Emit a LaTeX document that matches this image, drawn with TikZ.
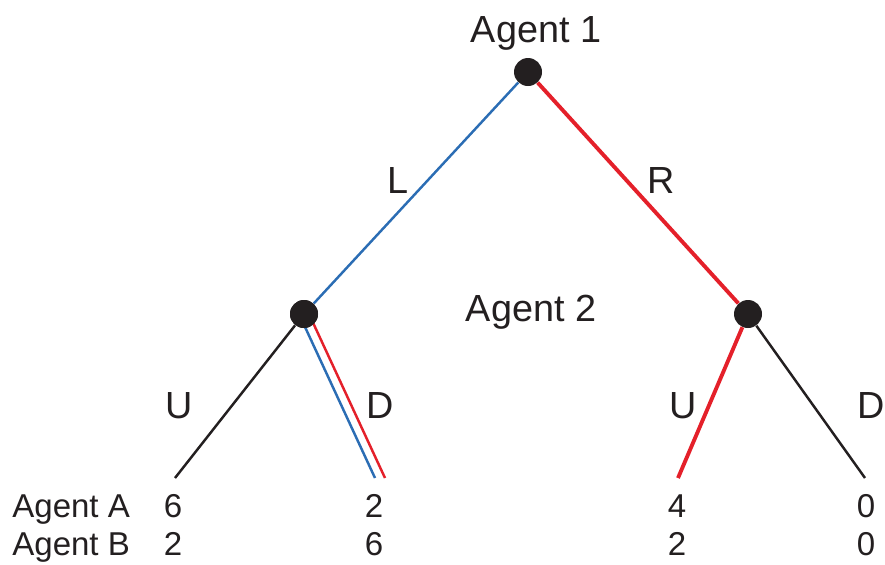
\documentclass[tikz,border=0pt]{standalone}
\usepackage{fontspec}
\setmainfont{Liberation Sans}
\usepackage{xcolor}
\usetikzlibrary{positioning,calc}

\definecolor{nodeblack}{HTML}{231F20}
\definecolor{moveblue}{HTML}{2B6DB4}
\definecolor{movered}{HTML}{E4202A}

\begin{document}
\begin{tikzpicture}[
  decision/.style={circle,fill=nodeblack,minimum size=5.6mm,inner sep=0pt},
  edge/.style={line width=1.4pt,draw=nodeblack},
  blueedge/.style={line width=1.4pt,draw=moveblue},
  rededge/.style={line width=2.2pt,draw=movered},
  treelabel/.style={anchor=base,font=\fontsize{21.5}{24}\selectfont},
  payoff/.style={anchor=base,inner sep=0pt},
  every node/.style={font=\fontsize{18.8}{21}\selectfont,text=nodeblack}
]
  \useasboundingbox (0,0) rectangle (17.7,-11.28);

  % decision nodes and leaves
  \node[decision] (top) at (10.56,-1.44) {};
  \node[decision] (left) at (6.08,-6.28) {};
  \node[decision] (right) at (14.96,-6.28) {};
  \coordinate (leafLU) at (3.5,-9.56);
  \coordinate (leafLD) at (7.6,-9.56);
  \coordinate (leafRU) at (13.56,-9.56);
  \coordinate (leafRD) at (17.3,-9.56);

  % moves
  \draw[blueedge] (top) -- (left);
  \draw[rededge] (top) -- (right);
  \draw[edge] (left) -- (leafLU);
  \draw[blueedge,transform canvas={xshift=-1mm}] (left.center) -- (leafLD);
  \draw[rededge,line width=1.4pt,transform canvas={xshift=1mm}] (left.center) -- (leafLD);
  \draw[rededge] (right) -- (leafRU);
  \draw[edge] (right) -- (leafRD);
  \node[decision] at (left) {};

  % labels
  \node[treelabel] (ag1) at (10.72,-0.84) {Agent 1};
  \node[treelabel] (ag2) at (10.62,-6.42) {Agent 2};
  \node[treelabel] (mL) at (7.96,-3.86) {L};
  \node[treelabel] (mR) at (13.22,-3.86) {R};
  \node[treelabel] (mLU) at (3.58,-8.36) {U};
  \node[treelabel] (mLD) at (7.6,-8.36) {D};
  \node[treelabel] (mRU) at (13.66,-8.36) {U};
  \node[treelabel] (mRD) at (17.42,-8.36) {D};

  % payoffs
  \node[payoff,anchor=base west] (pA) at (0.24,-10.34) {Agent A};
  \node[payoff,anchor=base west] (pB) at (0.24,-11.10) {Agent B};
  \node[payoff] (a1) at (3.46,-10.34) {6};
  \node[payoff] (a2) at (7.48,-10.34) {2};
  \node[payoff] (a3) at (13.54,-10.34) {4};
  \node[payoff] (a4) at (17.32,-10.34) {0};
  \node[payoff] (b1) at (3.46,-11.10) {2};
  \node[payoff] (b2) at (7.48,-11.10) {6};
  \node[payoff] (b3) at (13.54,-11.10) {2};
  \node[payoff] (b4) at (17.32,-11.10) {0};
\end{tikzpicture}
\end{document}
